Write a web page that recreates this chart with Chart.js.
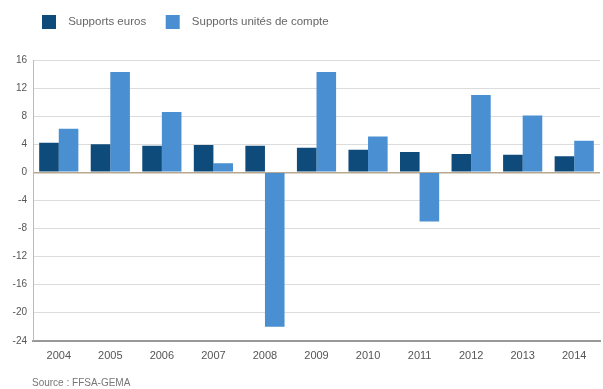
<!DOCTYPE html>
<html>
<head>
<meta charset="utf-8">
<script src="https://cdn.jsdelivr.net/npm/chart.js@4/dist/chart.umd.min.js"></script>
<style>
  html, body { margin: 0; padding: 0; background: #fff; }
  #wrap { width: 603px; height: 389px; position: relative; }
</style>
</head>
<body>
<div id="wrap"><canvas id="bar-chart"></canvas></div>
<script>
// rendements des supports, en %
var years = ["2004", "2005", "2006", "2007", "2008", "2009", "2010", "2011", "2012", "2013", "2014"];
var supportsEuros = [4.2, 4.0, 3.8, 3.9, 3.8, 3.5, 3.2, 2.9, 2.6, 2.5, 2.3];
var supportsUC = [6.2, 14.3, 8.6, 1.3, -22.0, 14.3, 5.1, -7.0, 11.0, 8.1, 4.5];
var yTicks = [16, 12, 8, 4, 0, -4, -8, -12, -16, -20, -24];
var sourceText = "Source : FFSA-GEMA";

Chart.defaults.font.family = "'Liberation Sans', Arial, sans-serif";
Chart.defaults.color = "#666";

// decale legende et source, agrandit la legende
var tweak = {
	id: 'tweak',
	beforeInit: function (chart) {
		var lg = chart.legend;
		var fit = lg.fit;
		lg.fit = function () {
			fit.call(lg);
			lg.height += 21;
		};
	},
	afterLayout: function (chart) {
		chart.legend.left += 32;
		chart.boxes.forEach(function (b) {
			if (b.options && b.options.text === sourceText) b.left += 32;
		});
	}
};

new Chart(document.getElementById("bar-chart"), {
	type: 'bar',
	data: {
		labels: years,
		datasets: [{
			label: "Supports euros",
			data: supportsEuros,
			backgroundColor: "#0e4b7b",
			categoryPercentage: 0.76,
			barPercentage: 1.0
		}, {
			label: "Supports unités de compte",
			data: supportsUC,
			backgroundColor: "#4a8fd2",
			categoryPercentage: 0.76,
			barPercentage: 1.0
		}]
	},
	plugins: [tweak],
	options: {
		responsive: true,
		maintainAspectRatio: false,
		animation: false,
		layout: { padding: { left: 0, right: 3, top: 5, bottom: 0 } },
		plugins: {
			legend: {
				position: 'top',
				align: 'start',
				labels: {
					boxWidth: 14,
					boxHeight: 14,
					padding: 10,
					color: "#666",
					font: { size: 11.5 },
					generateLabels: function (chart) {
						var items = Chart.defaults.plugins.legend.labels.generateLabels(chart);
						items.forEach(function (it) { it.text = "  " + it.text + "   "; });
						return items;
					}
				}
			},
			title: { display: false },
			subtitle: {
				display: true,
				text: sourceText,
				position: 'bottom',
				align: 'start',
				color: "#777",
				font: { size: 10 },
				padding: { top: 5, bottom: 0 }
			},
			tooltip: { enabled: false }
		},
		scales: {
			x: {
				grid: { display: false, drawTicks: false },
				border: { color: "#999", width: 2 },
				ticks: { font: { size: 11 }, color: "#555", padding: 9 }
			},
			y: {
				min: yTicks[yTicks.length - 1],
				max: yTicks[0],
				afterFit: function (s) { s.width = 33; },
				border: { color: "#bbb", width: 1 },
				grid: {
					drawTicks: false,
					color: function (ctx) {
						if (ctx.tick && ctx.tick.value === 0) return "#b8a890";
						return "#dcdcdc";
					},
					lineWidth: function (ctx) {
						return ctx.tick && ctx.tick.value === 0 ? 1.5 : 1;
					}
				},
				ticks: {
					stepSize: 2,
					padding: 6,
					font: { size: 10 },
					color: "#555",
					callback: function (v) {
						return yTicks.indexOf(v) >= 0 ? v : '';
					}
				}
			}
		}
	}
});
</script>
</body>
</html>
